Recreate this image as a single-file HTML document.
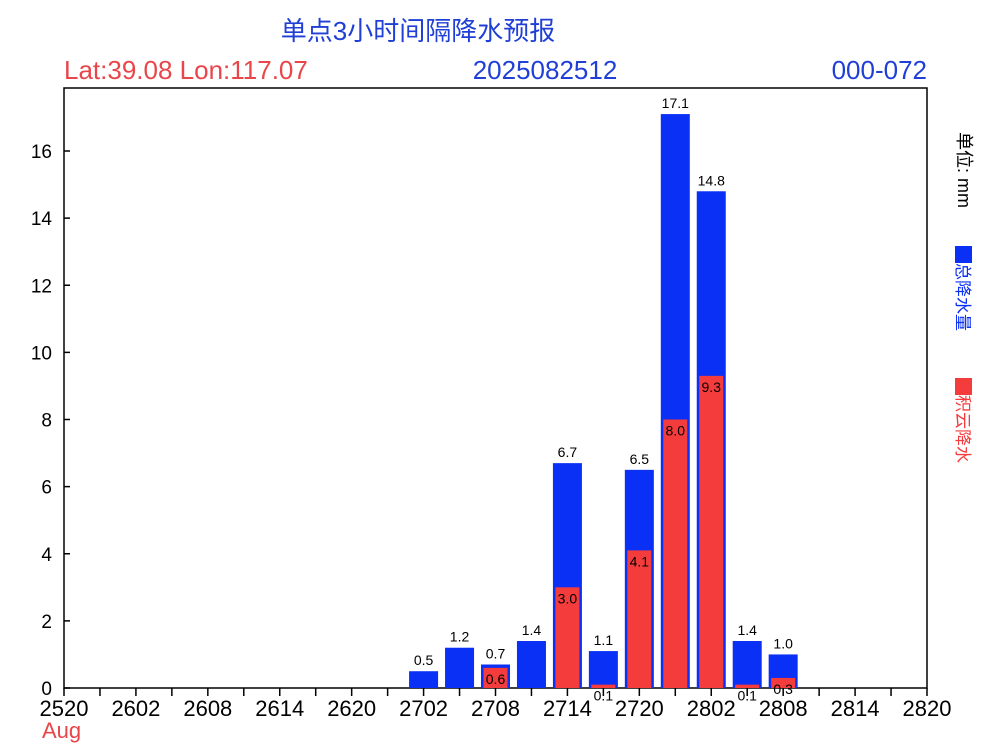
<!DOCTYPE html>
<html><head><meta charset="utf-8"><style>
body{margin:0;background:#fff;}
text{font-family:"Liberation Sans","Noto Sans CJK SC",sans-serif;}
</style></head><body>
<svg id="chart" width="1000" height="750" xmlns="http://www.w3.org/2000/svg">
<text x="418" y="40" font-size="26" fill="#1f3fd6" text-anchor="middle">单点3小时间隔降水预报</text>
<text x="64" y="79" font-size="26" fill="#e8464a">Lat:39.08 Lon:117.07</text>
<text x="545" y="79" font-size="26" fill="#1f3fd6" text-anchor="middle">2025082512</text>
<text x="927" y="79" font-size="26" fill="#1f3fd6" text-anchor="end">000-072</text>
<rect x="64" y="88" width="863" height="600" fill="none" stroke="#000" stroke-width="1.5"/>
<g id="axes"></g>
<g id="bars"></g>
<text x="42" y="738" font-size="22" fill="#e8464a">Aug</text>
<g transform="translate(958,132) rotate(90)"><text x="0" y="0" font-size="18" fill="#000">单位: mm</text></g>
<rect x="955" y="246" width="17" height="17" fill="#0a2ff5"/>
<g transform="translate(957,263) rotate(90)"><text x="0" y="0" font-size="17" fill="#0a2ff5">总降水量</text></g>
<rect x="955" y="378" width="17" height="17" fill="#f53c3c"/>
<g transform="translate(957,395) rotate(90)"><text x="0" y="0" font-size="17" fill="#f53c3c">积云降水</text></g>
</svg>
<script>
const xTickLabels=["2520","2602","2608","2614","2620","2702","2708","2714","2720","2802","2808","2814","2820"];
const yTicks=[0,2,4,6,8,10,12,14,16];
const barHours=[30,33,36,39,42,45,48,51,54,57,60];
const totalPrecip=[0.5,1.2,0.7,1.4,6.7,1.1,6.5,17.1,14.8,1.4,1.0];
const convPrecip=[0,0,0.6,0,3.0,0.1,4.1,8.0,9.3,0.1,0.3];
const NS="http://www.w3.org/2000/svg";
const X0=64,X1=927,Y0=688,Y1=88;
const x=h=>X0+(X1-X0)*h/72;
const y=v=>Y0-v*(688-151)/16;
function mk(tag,attrs,parent){const e=document.createElementNS(NS,tag);for(const k in attrs)e.setAttribute(k,attrs[k]);parent.appendChild(e);return e;}
const ax=document.getElementById('axes'),bg=document.getElementById('bars');
yTicks.forEach(v=>{
 const l=mk('line',{x1:X0,x2:X0+6,y1:y(v),y2:y(v),stroke:'#000','stroke-width':1.5},ax);
 
 
 const t=mk('text',{x:X0-12,y:y(v)+7,'font-size':19,'text-anchor':'end'},ax);t.textContent=v;
 
 
});
for(let h=0;h<=72;h+=3){
 const l=mk('line',{x1:x(h),x2:x(h),y1:Y0,y2:Y0+8,stroke:'#000','stroke-width':1.5},ax);
 
 
}
xTickLabels.forEach((s,i)=>{
 const t=mk('text',{x:x(i*6),y:716,'font-size':22,'text-anchor':'middle'},ax);t.textContent=s;
 
 
});
barHours.forEach((h,i)=>{
 const cx=x(h),v=totalPrecip[i],c=convPrecip[i];
 const b=mk('rect',{x:cx-14.5,y:y(v),width:29,height:Y0-y(v),fill:'#0a2ff5'},bg);
 
 
 const bl=mk('text',{x:cx,y:y(v)-6,'font-size':14,'text-anchor':'middle'},bg);bl.textContent=v.toFixed(1);
 
 
 if(c>0){
  const r=mk('rect',{x:cx-12,y:y(c),width:24,height:Y0-y(c),fill:'#f53c3c'},bg);
  
  
  const rl=mk('text',{x:cx,y:y(c)+16,'font-size':14,'text-anchor':'middle'},bg);rl.textContent=c.toFixed(1);
  
  
 }
});
</script>
</body></html>
